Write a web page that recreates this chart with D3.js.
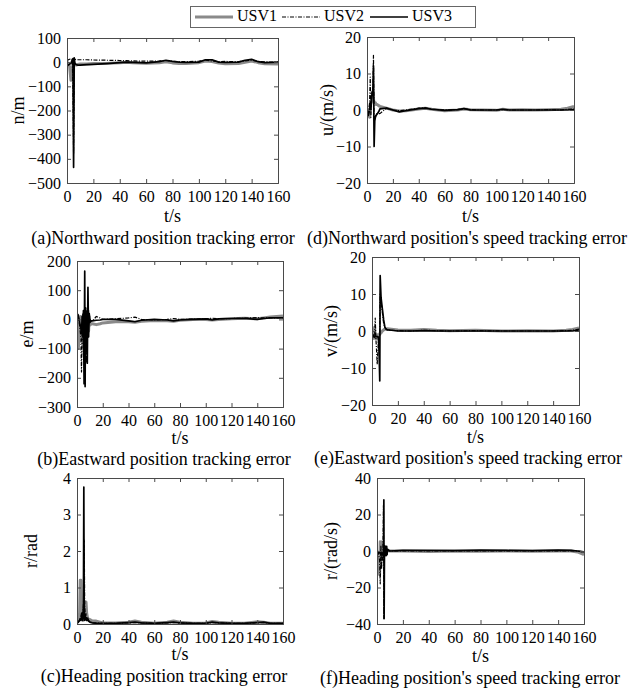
<!DOCTYPE html>
<html><head><meta charset="utf-8">
<script src="https://cdn.jsdelivr.net/npm/d3@7/dist/d3.min.js"></script>
<style>
body{margin:0;background:#fff;}
</style></head>
<body><svg id="c" width="639" height="688"></svg>
<script>
// ---------- DATA ----------
const seriesNames = ["USV1", "USV2", "USV3"];
const xTicks = [0, 20, 40, 60, 80, 100, 120, 140, 160];

// (a) northward position error n/m
const tA = [0,1,2,3,4,4.5,5,5.5,6,7, 8,10,15,20,30,40,45,50,60,70, 75,80,85,90,100,105,110,115,120,130, 135,140,145,150,160];
const nUSV1 = [0,-5,-20,-75,-30,-10,-15,-5,-8,-12, -10,-8,-8,-6,-5,-2,0,-2,-5,-2, 2,-3,-6,-6,-2,5,3,-4,-7,-6, 0,5,-2,-7,-8];
const nUSV2 = [5,10,12,15,12,-100,-380,15,12,10, 10,10,10,9,8,7,6,5,4,5, 7,3,2,2,4,8,5,2,3,2, 5,8,3,1,0];
const nUSV3 = [-10,-12,-8,-5,10,15,-435,18,-5,-10, -12,-12,-10,-9,-6,-2,0,-1,-3,2, 8,3,0,-1,0,10,10,0,-1,0, 8,12,2,-2,0];
const yTicksA = [100, 0, -100, -200, -300, -400, -500];

// (d) northward speed error u/(m/s)
const tD = [0,1,2,2.5,3,3.5,4,4.5,5,5.5, 6,6.5,7,8,9,10,15,20,25,30, 40,45,50,60,70,75,80,90,100,105, 110,120,130,140,150,155,160];
const uUSV1 = [0,-1,-2,1,2,3,4,5,3,2, 2,2,1.5,1.5,1.2,1,0.5,0,-0.3,-0.2, 0.3,0.5,0.2,-0.2,0,0.3,0.1,0,-0.1,0.2, 0,0.1,0,0.1,0.2,0.5,1];
const uUSV2 = [-1,-1,2,9,-2,3,5,4,15,-3, -2,-2,-1,-1,-1,-1,0.5,0,-0.2,0, 0.5,0.6,0.2,0,0.1,0.3,0.1,0,0,0.1, 0,0,0,0.1,0,0.2,0.3];
const uUSV3 = [-1,-1.5,0,2,0,3,5,5,12,-10, -3,-2,-1.5,-1,-0.5,0.3,0.5,0,-0.5,-0.2, 0.4,0.5,0.2,-0.1,0.1,0.4,0,0,0,0.2, 0,0,0,0,0,0,0.2];
const yTicksD = [20, 10, 0, -10, -20];

// (b) eastward position error e/m
const tB = [0,1,2,3,3.5,4,4.5,5,5.5,6, 6.3,6.6,7,7.5,8,8.5,9,9.5,10,11, 12,15,18,20,30,40,45,50,60,70, 75,80,90,100,105,110,120,130,140,145, 150,160];
const eUSV1 = [10,-100,-40,10,-60,0,-80,-20,-120,10, -50,20,-100,0,-60,30,-40,10,-20,-15, -15,-18,-15,-12,-8,-8,-10,-6,-4,-5, -6,-3,0,0,-2,0,2,4,2,5, 8,12];
const eUSV2 = [15,10,-20,-60,-180,-30,20,-100,20,-200, 0,-50,30,-150,40,10,-20,5,0,-5, -5,10,5,0,2,5,8,0,-2,0, 3,0,1,2,4,2,3,4,6,5, 5,6];
const eUSV3 = [20,15,-10,-30,-50,10,-60,30,-220,165, -230,40,-100,20,-150,110,-60,20,-10,-5, -5,-3,-2,0,0,-5,-8,-3,0,-2, -5,-2,0,2,-2,2,3,4,0,3, 5,5];
const yTicksB = [200, 100, 0, -100, -200, -300];

// (e) eastward speed error v/(m/s)
const tE = [0,1,2,2.5,3,3.5,4,4.5,5,5.5, 6,6.3,7,8,9,10,11,12,15,20, 30,40,50,60,80,100,120,140,150,155, 160];
const vUSV1 = [-1,-2,1,-2,-1,-2,-1.5,-1,-1.5,-1, -1,-0.5,-0.5,0,0.3,0.5,0.5,0.6,0.5,0.3, 0.2,0.4,0.2,0.1,0.2,0,0.1,0,0.2,0.4, 0.8];
const vUSV2 = [-1,-1,-2,3.5,-2,-5,-9,-6,-2,-1.5, -1,10,8,5,2,1,0.5,0.3,0.2,0.1, 0,0.2,0.1,0,0.1,0,0,0,0.1,0.2, 0.5];
const vUSV3 = [-1.5,-1.5,-1.5,-1.5,-1.5,-1.5,-1.5,-1.5,-2,-6, -13.5,15,9,6,3,1,0.5,0.3,0.2,0, 0,0.1,0,0,0,0,0,0,0,0, 0.3];
const yTicksE = [20, 10, 0, -10, -20];

// (c) heading error r/rad
const tC = [0,1,2,2.5,3,3.5,4,4.5,5,5.3, 5.6,6,6.5,7,7.5,8,9,10,12,15, 20,30,40,45,50,60,70,75,80,90, 100,105,110,120,130,140,145,150,160];
const rUSV1 = [0.05,0.1,0.3,1.2,1.2,0.3,0.2,0.1,0.3,0.5, 0.3,0.6,0.4,0.6,0.3,0.2,0.1,0.12,0.08,0.08, 0.03,0.03,0.05,0.08,0.05,0.02,0.05,0.08,0.05,0.02, 0.03,0.07,0.05,0.02,0.02,0.06,0.05,0.02,0.02];
const rUSV2 = [0.02,0.05,0.1,0.1,0.2,0.3,0.1,0.3,0.5,1.0, 2.3,0.5,0.2,0.3,0.1,0.2,0.1,0.05,0.03,0.03, 0.02,0.02,0.03,0.04,0.03,0.02,0.03,0.04,0.03,0.02, 0.02,0.04,0.03,0.02,0.02,0.03,0.04,0.02,0.02];
const rUSV3 = [0.02,0.05,0.1,0.15,0.1,0.2,0.3,0.1,0.5,3.75, 0.3,0.1,0.2,0.15,0.1,0.15,0.08,0.05,0.03,0.02, 0.02,0.02,0.04,0.05,0.03,0.02,0.04,0.05,0.03,0.02, 0.02,0.05,0.03,0.02,0.02,0.04,0.05,0.02,0.02];
const yTicksC = [4, 3, 2, 1, 0];

// (f) heading speed error r/(rad/s)
const tF = [0,1,2,2.5,3,3.5,4,4.5,5,5.3, 5.5,5.8,6,6.3,6.6,6.9,7.2,7.5,7.8,8.1, 9,10,20,40,60,80,100,120,140,150, 155,160];
const wUSV1 = [0,-2,-13,5,-8,5,-3,2,-1,0, 1,0,0.5,0,0.5,0,0.3,0,0.3,0, 0.2,0,0,-0.3,0,-0.2,0,-0.2,0,0, -0.5,-2];
const wUSV2 = [0,-1,-5,-18,3,-10,-2,-5,25,-37, -5,2,0,1,-1,1,-1,1,0,0, 0,0,0,0,0,0,0,0,0,0, 0,-0.5];
const wUSV3 = [-0.5,-1,-1,-1,-2,-1,-2,-1,-3,28, -37,3,-2,2.5,-2.5,2.5,-2.5,2.5,-2,1, 0.5,0,0.3,0.3,0.2,0.5,0.3,0.2,0.5,0.3, 0,-0.5];
const yTicksF = [40, 20, 0, -20, -40];

// ---------- LAYOUT / STYLE ----------
const FONT = "'Liberation Serif', 'Times New Roman', Times, serif";
const styles = [
  {stroke: "#8a8a8a", width: 3, dash: null},
  {stroke: "#000", width: 1.2, dash: "4,1.5,1,1.5"},
  {stroke: "#000", width: 1.7, dash: null}
];

const panels = [
  {t: tA, ys: [nUSV1, nUSV2, nUSV3], ticks: yTicksA, ylab: "n/m", cap: "(a)Northward position tracking error",
   box: [67, 38, 278, 183], ylx: 20, tsy: 218, capy: 240, capx: 163},
  {t: tD, ys: [uUSV1, uUSV2, uUSV3], ticks: yTicksD, ylab: "u/(m/s)", cap: "(d)Northward position's speed tracking error",
   box: [367, 37, 574, 183], ylx: 329, tsy: 218, capx: 467, capy: 240},
  {t: tB, ys: [eUSV1, eUSV2, eUSV3], ticks: yTicksB, ylab: "e/m", cap: "(b)Eastward position tracking error",
   box: [77, 261, 283, 407], ylx: 29, tsy: 440, capx: 164, capy: 461},
  {t: tE, ys: [vUSV1, vUSV2, vUSV3], ticks: yTicksE, ylab: "v/(m/s)", cap: "(e)Eastward position's speed tracking error",
   box: [372, 257, 579, 405], ylx: 333, tsy: 439, capx: 468, capy: 460},
  {t: tC, ys: [rUSV1, rUSV2, rUSV3], ticks: yTicksC, ylab: "r/rad", cap: "(c)Heading position tracking error",
   box: [77, 478, 283, 624], ylx: 33, tsy: 656, capx: 164, capy: 678},
  {t: tF, ys: [wUSV1, wUSV2, wUSV3], ticks: yTicksF, ylab: "r/(rad/s)", cap: "(f)Heading position's speed tracking error",
   box: [377, 478, 584, 624], ylx: 333, tsy: 658, capx: 470, capy: 680}
];

const svg = d3.select("#c");
const axisColor = "#4a4a4a";
const tickLen = 4;

panels.forEach((p, i) => {
  const [x0, y0, x1, y1] = p.box;
  const x = d3.scaleLinear().domain([0, 160]).range([x0, x1]);
  const y = d3.scaleLinear().domain([d3.min(p.ticks), d3.max(p.ticks)]).range([y1, y0]);
  const g = svg.append("g");
  const clipId = "clip" + i;
  svg.append("clipPath").attr("id", clipId).append("rect")
    .attr("x", x0).attr("y", y0).attr("width", x1 - x0).attr("height", y1 - y0);

  const lines = g.append("g").attr("clip-path", `url(#${clipId})`);
  p.ys.forEach((vals, k) => {
    const line = d3.line().x((d, j) => x(p.t[j])).y(d => y(d));
    const st = styles[k];
    lines.append("path").datum(vals).attr("d", line)
      .attr("fill", "none").attr("stroke", st.stroke).attr("stroke-width", st.width)
      .attr("stroke-dasharray", st.dash).attr("stroke-linejoin", "round");
  });

  const fmt = d3.format("d");
  const bottom = d3.axisBottom(x).tickValues(xTicks).tickSize(-tickLen).tickPadding(6).tickFormat(fmt);
  const top = d3.axisTop(x).tickValues(xTicks).tickSize(-tickLen).tickFormat("");
  const left = d3.axisLeft(y).tickValues(p.ticks).tickSize(-tickLen).tickPadding(6).tickFormat(fmt);
  const right = d3.axisRight(y).tickValues(p.ticks).tickSize(-tickLen).tickFormat("");
  const gb = g.append("g").attr("transform", `translate(0,${y1})`).call(bottom);
  const gt = g.append("g").attr("transform", `translate(0,${y0})`).call(top);
  const gl = g.append("g").attr("transform", `translate(${x0},0)`).call(left);
  const gr = g.append("g").attr("transform", `translate(${x1},0)`).call(right);
  [gb, gt, gl, gr].forEach(a => {
    a.attr("font-family", null).attr("font-size", null);
    a.selectAll(".domain").attr("stroke", axisColor).attr("stroke-width", 1);
    a.selectAll(".tick line").attr("stroke", axisColor);
    a.selectAll("text").style("font-family", FONT).style("font-size", "16px").attr("fill", "#000");
  });
  gb.selectAll("text").attr("dy", "0.8em");

  g.append("text").attr("x", (x0 + x1) / 2).attr("y", p.tsy).attr("text-anchor", "middle")
    .attr("dominant-baseline", "middle").style("font-family", FONT).style("font-size", "18px").text("t/s");
  g.append("text").attr("transform", `translate(${p.ylx},${(y0 + y1) / 2}) rotate(-90)`)
    .attr("text-anchor", "middle").attr("dominant-baseline", "middle")
    .style("font-family", FONT).style("font-size", "18px").text(p.ylab);
  g.append("text").attr("x", p.capx).attr("y", p.capy).attr("text-anchor", "middle")
    .attr("dominant-baseline", "middle").style("font-family", FONT).style("font-size", "18px").text(p.cap);
});

// legend
const lg = svg.append("g");
lg.append("rect").attr("x", 190.5).attr("y", 6.5).attr("width", 285).attr("height", 21)
  .attr("fill", "#fff").attr("stroke", "#666").attr("stroke-width", 1);
const legX = [195, 282, 370];
seriesNames.forEach((name, k) => {
  const st = styles[k];
  lg.append("line").attr("x1", legX[k]).attr("x2", legX[k] + 38).attr("y1", 17).attr("y2", 17)
    .attr("stroke", st.stroke).attr("stroke-width", st.width).attr("stroke-dasharray", st.dash);
  lg.append("text").attr("x", legX[k] + 42).attr("y", 17).attr("dominant-baseline", "middle")
    .style("font-family", FONT).style("font-size", "16px").text(name);
});
</script></body></html>
